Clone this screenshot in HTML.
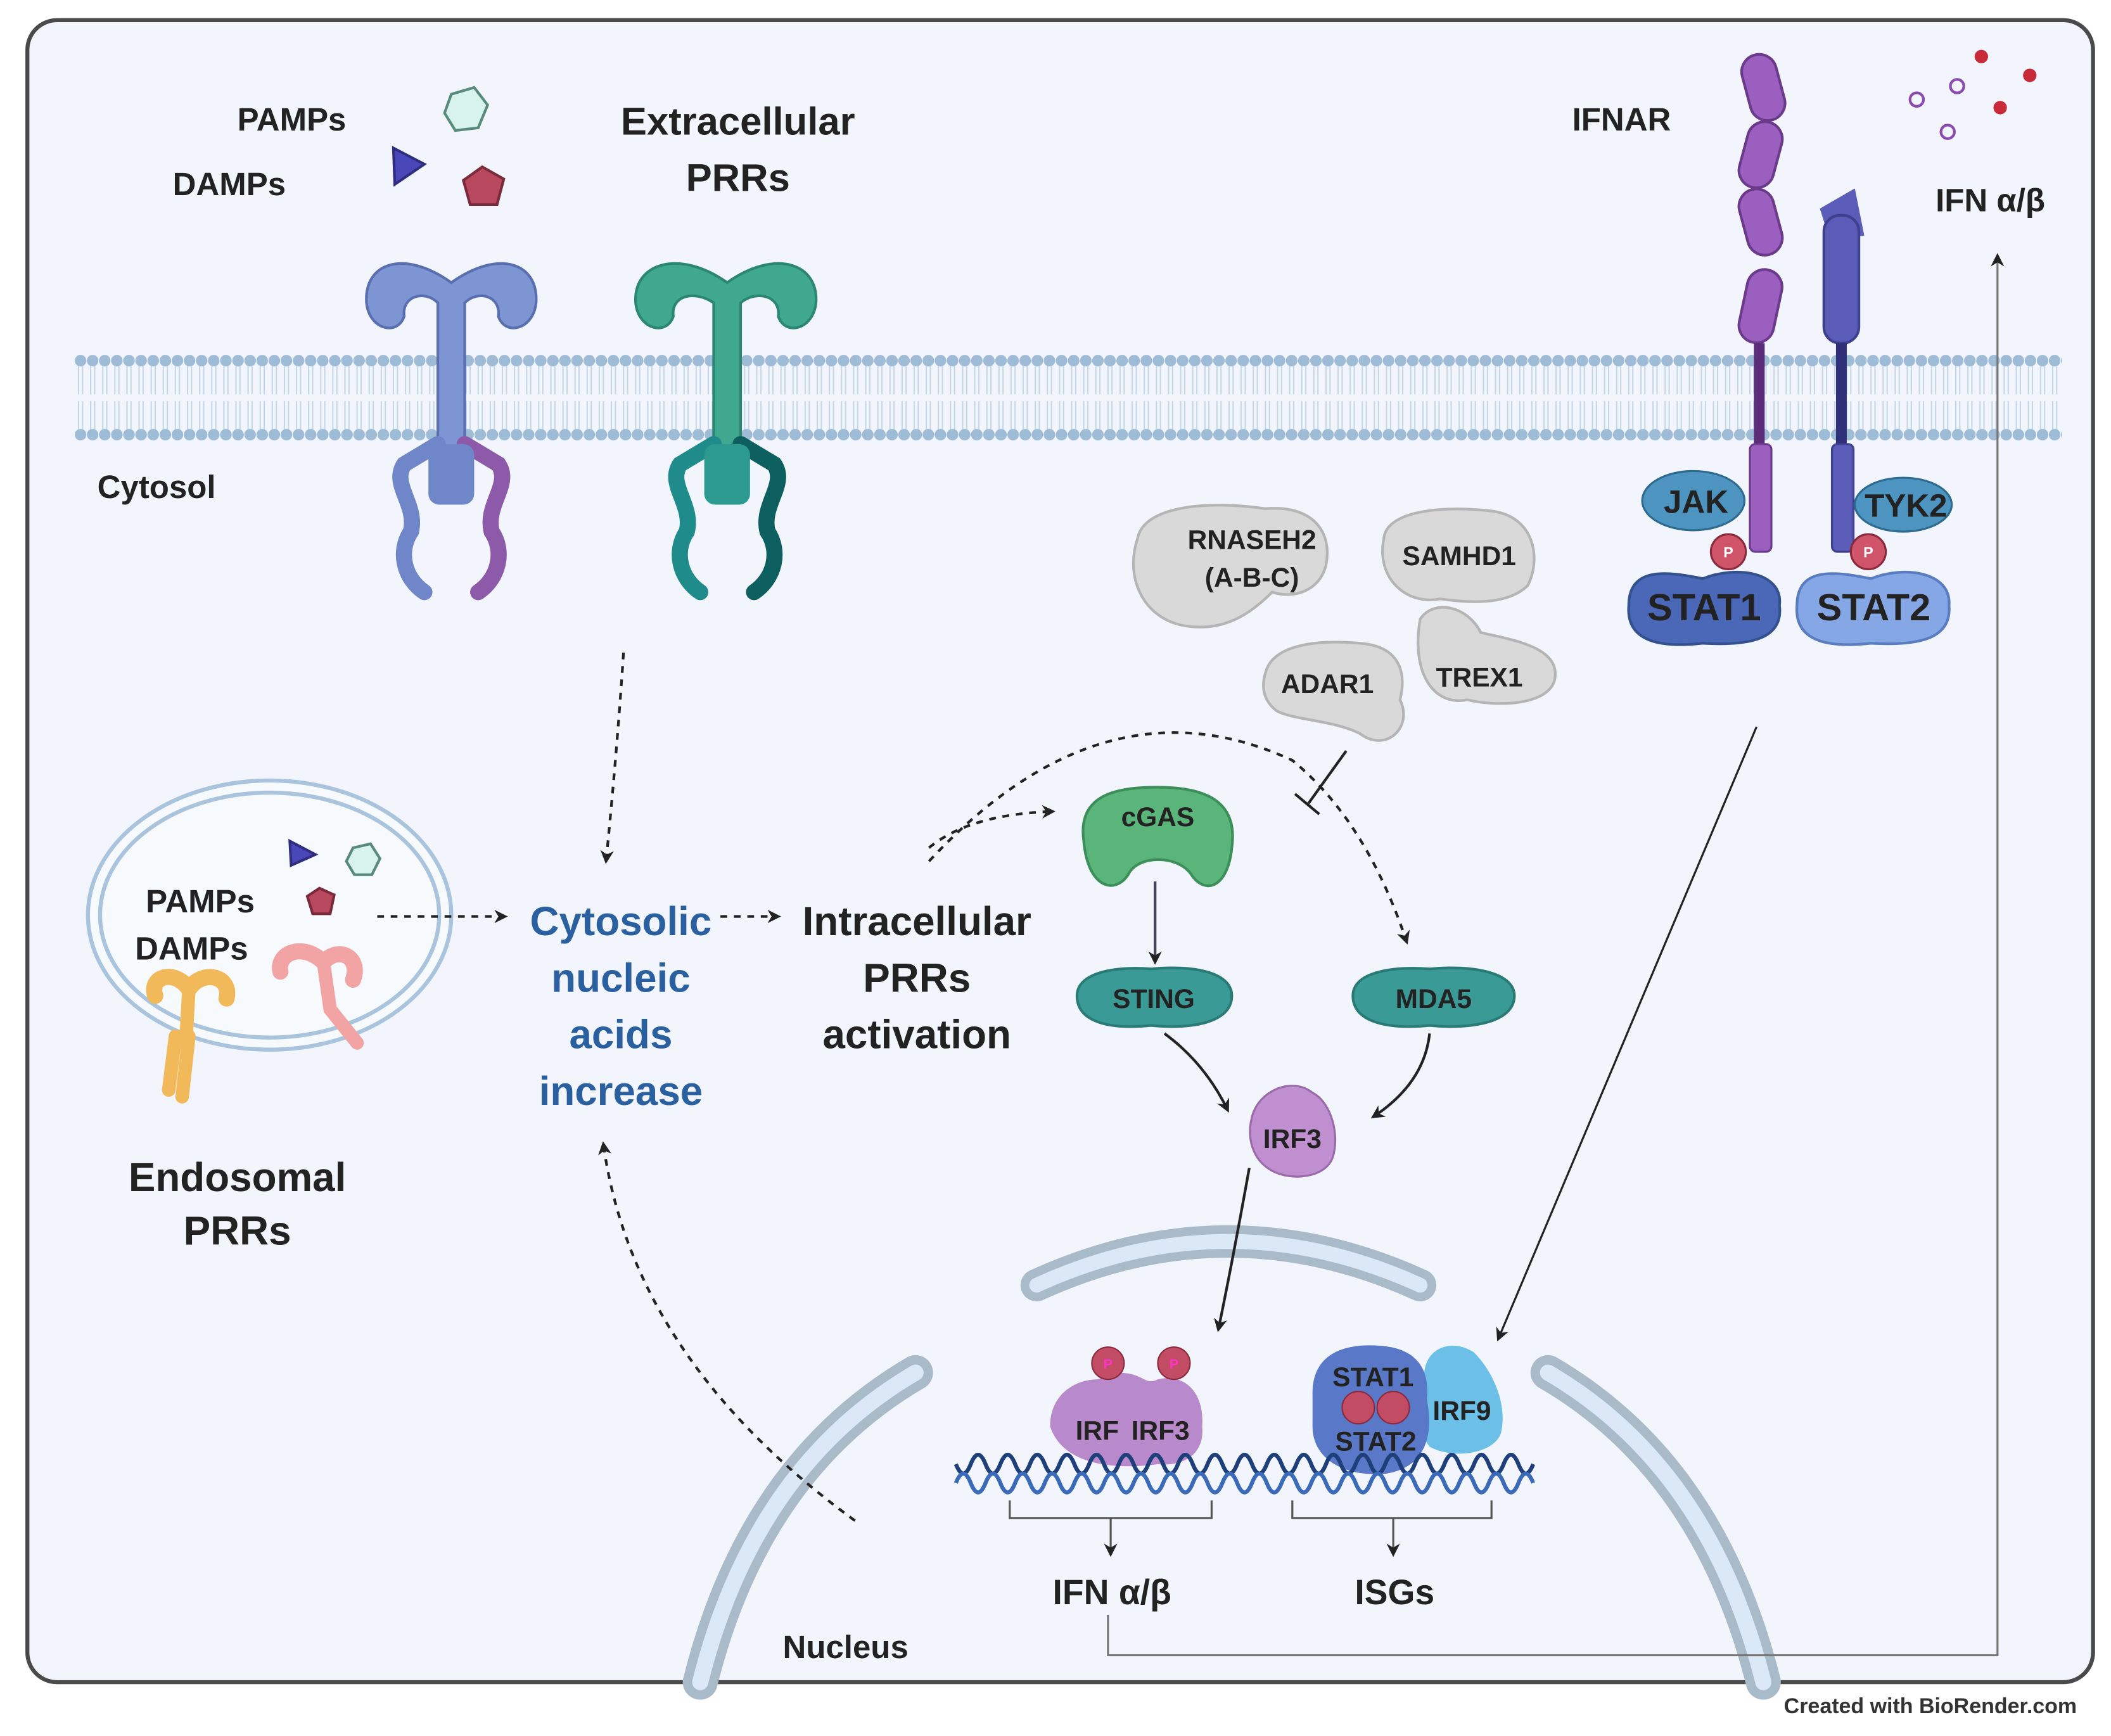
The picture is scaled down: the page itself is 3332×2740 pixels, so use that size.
<!DOCTYPE html>
<html><head><meta charset="utf-8"><style>
html,body{margin:0;padding:0;background:#fff}
svg{display:block}
text{font-family:"Liberation Sans",Arial,sans-serif;font-weight:bold}
</style></head><body>
<svg width="3332" height="2740" viewBox="0 0 1568 1290" xmlns="http://www.w3.org/2000/svg">
<defs>
<marker id="ah" markerWidth="10" markerHeight="10" refX="8" refY="5" orient="auto" markerUnits="userSpaceOnUse"><path d="M0,0 L10,5 L0,10 L3,5 z" fill="#222"/></marker>
<pattern id="dots" x="55" y="0" width="9" height="400" patternUnits="userSpaceOnUse">
<circle cx="4.5" cy="268" r="4.3" fill="#9fbcd6"/><circle cx="4.5" cy="323" r="4.3" fill="#9fbcd6"/>
<line x1="3" y1="272" x2="3" y2="293" stroke="#c5d6e6" stroke-width="1"/><line x1="6" y1="272" x2="6" y2="293" stroke="#c5d6e6" stroke-width="1"/>
<line x1="3" y1="298" x2="3" y2="319" stroke="#c5d6e6" stroke-width="1"/><line x1="6" y1="298" x2="6" y2="319" stroke="#c5d6e6" stroke-width="1"/>
</pattern>
</defs>
<rect x="0" y="0" width="1568" height="1290" fill="#fff"/>
<rect x="20" y="15" width="1535" height="1235" rx="22" fill="#f2f6fc" stroke="#4a4a4a" stroke-width="3"/>
<rect x="55" y="262" width="1477" height="68" fill="url(#dots)"/>

<!-- nucleus envelope -->
<path d="M520 1250 Q560 1090 680 1020" fill="none" stroke="#a9bac9" stroke-width="26" stroke-linecap="round"/>
<path d="M520 1250 Q560 1090 680 1020" fill="none" stroke="#dbe9f7" stroke-width="12" stroke-linecap="round"/>
<path d="M1150 1020 Q1270 1090 1310 1250" fill="none" stroke="#a9bac9" stroke-width="26" stroke-linecap="round"/>
<path d="M1150 1020 Q1270 1090 1310 1250" fill="none" stroke="#dbe9f7" stroke-width="12" stroke-linecap="round"/>
<path d="M770 955 Q912 890 1055 955" fill="none" stroke="#a9bac9" stroke-width="24" stroke-linecap="round"/>
<path d="M770 955 Q912 890 1055 955" fill="none" stroke="#dbe9f7" stroke-width="11" stroke-linecap="round"/>

<!-- endosome -->
<ellipse cx="200" cy="680" rx="135" ry="100" fill="#f7fafd" stroke="#a9c4dc" stroke-width="3"/>
<ellipse cx="200" cy="680" rx="126" ry="91" fill="none" stroke="#a9c4dc" stroke-width="3"/>

<!-- ligands top -->
<polygon points="335,70 352,65 362,78 355,95 338,97 330,84" fill="#d8f3ec" stroke="#5a8a7c" stroke-width="2"/>
<polygon points="292,110 315,122 293,137" fill="#4a48b8" stroke="#302c80" stroke-width="2"/>
<polygon points="358,124 374,133 369,152 349,152 344,134" fill="#b8485e" stroke="#7a2a3a" stroke-width="2"/>
<!-- ligands endosome -->
<polygon points="262,630 275,627 282,638 276,650 263,650 257,640" fill="#d8f3ec" stroke="#5a8a7c" stroke-width="2"/>
<polygon points="215,625 234,635 216,643" fill="#4a48b8" stroke="#302c80" stroke-width="2"/>
<polygon points="237,660 248,665 245,679 232,679 228,666" fill="#b8485e" stroke="#7a2a3a" stroke-width="2"/>

<!-- extracellular PRR 1 (blue) -->
<g>
<path d="M335 210 C300 185 270 195 272 225 C274 245 295 250 300 235 C298 220 315 215 325 225 L325 360 L345 360 L345 225 C355 215 372 220 370 235 C375 250 396 245 398 225 C400 195 370 185 335 210z" fill="#7d95d3" stroke="#5a6fb0" stroke-width="2"/>
<path d="M325 330 L300 345 C290 360 310 375 305 395 C295 410 300 430 315 440" fill="none" stroke="#6f87c8" stroke-width="12" stroke-linecap="round"/>
<path d="M345 330 L370 345 C380 360 360 375 365 395 C375 410 370 430 355 440" fill="none" stroke="#8c5aa8" stroke-width="12" stroke-linecap="round"/>
<rect x="318" y="330" width="34" height="45" rx="8" fill="#6f87c8"/>
</g>
<!-- extracellular PRR 2 (green) -->
<g>
<path d="M540 210 C505 185 470 195 472 225 C474 245 495 250 500 235 C498 220 515 215 530 225 L530 360 L550 360 L550 225 C562 215 580 220 578 235 C583 250 604 245 606 225 C608 195 575 185 540 210z" fill="#3fa88f" stroke="#2b8672" stroke-width="2"/>
<path d="M530 330 L505 345 C495 360 515 375 510 395 C500 410 505 430 520 440" fill="none" stroke="#1f8b8b" stroke-width="12" stroke-linecap="round"/>
<path d="M550 330 L575 345 C585 360 565 375 570 395 C580 410 575 430 560 440" fill="none" stroke="#0e5f5f" stroke-width="12" stroke-linecap="round"/>
<rect x="523" y="330" width="34" height="45" rx="8" fill="#2d9a90"/>
</g>

<!-- endosomal receptors -->
<g fill="none" stroke-linecap="round">
<path d="M115 740 C110 725 130 720 140 735 C150 720 172 725 168 742" stroke="#f2b95a" stroke-width="12"/>
<path d="M140 735 L138 770 M130 770 L125 810 M140 770 L135 815" stroke="#f2b95a" stroke-width="10"/>
<path d="M208 722 C205 708 225 700 240 715 C252 702 268 712 262 728" stroke="#f2a3a3" stroke-width="12"/>
<path d="M240 715 L245 750 L265 775" stroke="#f2a3a3" stroke-width="10"/>
</g>

<!-- IFNAR -->
<g>
<rect x="1297" y="40" width="26" height="50" rx="13" fill="#9b5fc0" stroke="#6b3a8a" stroke-width="2" transform="rotate(-15 1310 65)"/>
<rect x="1295" y="90" width="26" height="50" rx="13" fill="#9b5fc0" stroke="#6b3a8a" stroke-width="2" transform="rotate(15 1308 115)"/>
<rect x="1295" y="140" width="26" height="50" rx="13" fill="#9b5fc0" stroke="#6b3a8a" stroke-width="2" transform="rotate(-15 1308 165)"/>
<rect x="1295" y="200" width="26" height="55" rx="13" fill="#9b5fc0" stroke="#6b3a8a" stroke-width="2" transform="rotate(12 1308 227)"/>
<rect x="1303" y="255" width="8" height="100" fill="#5b2d78"/>
<rect x="1300" y="330" width="16" height="80" rx="4" fill="#9b5fc0" stroke="#6b3a8a" stroke-width="1.5"/>
<path d="M1352 155 L1378 140 L1385 175 L1360 180z" fill="#5a5cb8"/>
<rect x="1355" y="160" width="26" height="95" rx="12" fill="#5a5cb8" stroke="#3d3f8f" stroke-width="2"/>
<rect x="1364" y="255" width="8" height="100" fill="#2f2f7a"/>
<rect x="1361" y="330" width="16" height="80" rx="4" fill="#5a5cb8" stroke="#3d3f8f" stroke-width="1.5"/>
<ellipse cx="1258" cy="372" rx="38" ry="22" fill="#4d95c0" stroke="#2c6a90" stroke-width="1.5"/>
<ellipse cx="1414" cy="375" rx="36" ry="20" fill="#4d95c0" stroke="#2c6a90" stroke-width="1.5"/>
<path d="M1210 450 C1210 420 1240 425 1265 430 C1290 420 1325 425 1322 450 C1325 475 1300 480 1265 478 C1230 482 1208 475 1210 450z" fill="#4a67b8" stroke="#33508f" stroke-width="2"/>
<path d="M1335 450 C1335 420 1365 425 1390 430 C1415 420 1450 425 1448 450 C1450 475 1425 480 1390 478 C1355 482 1333 475 1335 450z" fill="#86a7e6" stroke="#5a7cc0" stroke-width="2"/>
<circle cx="1284" cy="410" r="13" fill="#d0546a" stroke="#8a2a3c" stroke-width="1.5"/>
<circle cx="1388" cy="410" r="13" fill="#d0546a" stroke="#8a2a3c" stroke-width="1.5"/>
<text x="1284" y="414" font-size="11" fill="#fff" text-anchor="middle">P</text>
<text x="1388" y="414" font-size="11" fill="#fff" text-anchor="middle">P</text>
</g>
<!-- IFN dots -->
<g stroke-width="2">
<circle cx="1472" cy="42" r="5" fill="#c82a3a"/><circle cx="1508" cy="56" r="5" fill="#c82a3a"/><circle cx="1486" cy="80" r="5" fill="#c82a3a"/>
<circle cx="1424" cy="74" r="5" fill="none" stroke="#8a4ab0"/><circle cx="1454" cy="64" r="5" fill="none" stroke="#8a4ab0"/><circle cx="1447" cy="98" r="5" fill="none" stroke="#8a4ab0"/>
</g>

<!-- grey proteins -->
<g fill="#d9d9d9" stroke="#b5b5b5" stroke-width="2">
<path d="M845 400 C850 375 900 372 940 378 C975 375 990 395 985 420 C980 440 960 445 945 440 C930 455 910 470 880 465 C850 460 835 430 845 400z"/>
<path d="M1028 400 C1030 380 1070 375 1110 380 C1140 385 1145 415 1135 435 C1120 450 1090 448 1070 445 C1045 450 1022 430 1028 400z"/>
<path d="M1055 460 C1065 445 1090 450 1100 470 C1120 475 1160 480 1155 505 C1150 525 1110 525 1090 520 C1065 525 1048 500 1055 460z"/>
<path d="M940 500 C945 480 975 475 1010 478 C1040 480 1045 500 1040 520 C1050 540 1030 560 1010 545 C990 535 960 535 948 528 C938 520 937 510 940 500z"/>
</g>
<!-- cGAS, STING, MDA5, IRF3 -->
<path d="M805 625 C800 590 830 585 860 585 C895 585 920 595 915 630 C912 660 895 665 885 650 C875 635 845 635 838 650 C828 665 808 660 805 625z" fill="#5ab57a" stroke="#3c8e5a" stroke-width="2"/>
<path d="M800 740 C800 722 830 718 855 720 C885 717 915 722 915 740 C915 760 885 765 855 762 C825 765 800 760 800 740z" fill="#3a9a96" stroke="#2a7a76" stroke-width="2"/>
<path d="M1005 740 C1005 722 1035 718 1062 720 C1092 717 1125 722 1125 740 C1125 760 1092 765 1062 762 C1032 765 1005 760 1005 740z" fill="#3a9a96" stroke="#2a7a76" stroke-width="2"/>
<path d="M930 830 C935 810 960 800 975 812 C990 820 995 845 990 860 C985 875 960 878 945 870 C930 862 926 845 930 830z" fill="#c08fd0" stroke="#9a6aaa" stroke-width="1.5"/>

<!-- nucleus complexes -->
<path d="M780 1060 C780 1035 800 1025 815 1025 L830 1020 C850 1020 850 1030 860 1025 C880 1020 895 1035 893 1060 C895 1080 880 1090 860 1088 C830 1092 790 1090 780 1060z" fill="#b98acb"/>
<circle cx="823" cy="1013" r="12" fill="#c24c64" stroke="#8a2a3c"/>
<circle cx="872" cy="1013" r="12" fill="#c24c64" stroke="#8a2a3c"/>
<text x="823" y="1017" font-size="10" fill="#f3c" text-anchor="middle">P</text>
<text x="872" y="1017" font-size="10" fill="#f3c" text-anchor="middle">P</text>
<path d="M1058 1020 C1060 1000 1080 995 1095 1005 C1110 1020 1120 1045 1115 1065 C1110 1080 1080 1085 1062 1075 C1050 1060 1055 1040 1058 1020z" fill="#6cc0e8"/>
<path d="M975 1035 C975 1005 1000 998 1025 1000 C1055 1002 1062 1020 1060 1040 C1065 1065 1060 1090 1030 1095 C1000 1098 975 1085 975 1060z" fill="#5a78c8"/>
<circle cx="1009" cy="1046" r="12" fill="#c24c64" stroke="#8a2a3c"/>
<circle cx="1035" cy="1046" r="12" fill="#c24c64" stroke="#8a2a3c"/>

<!-- DNA -->
<path d="M710 1088 q5.5 14 11 0 t11 0 t11 0 t11 0 t11 0 t11 0 t11 0 t11 0 t11 0 t11 0 t11 0 t11 0 t11 0 t11 0 t11 0 t11 0 t11 0 t11 0 t11 0 t11 0 t11 0 t11 0 t11 0 t11 0 t11 0 t11 0 t11 0 t11 0 t11 0 t11 0 t11 0 t11 0 t11 0 t11 0 t11 0 t11 0 t11 0 t11 0 t11 0" fill="none" stroke="#1f3f7a" stroke-width="3"/>
<path d="M710 1102 q5.5 -14 11 0 t11 0 t11 0 t11 0 t11 0 t11 0 t11 0 t11 0 t11 0 t11 0 t11 0 t11 0 t11 0 t11 0 t11 0 t11 0 t11 0 t11 0 t11 0 t11 0 t11 0 t11 0 t11 0 t11 0 t11 0 t11 0 t11 0 t11 0 t11 0 t11 0 t11 0 t11 0 t11 0 t11 0 t11 0 t11 0 t11 0 t11 0 t11 0" fill="none" stroke="#3a6ab8" stroke-width="3"/>

<!-- brackets -->
<g fill="none" stroke="#555" stroke-width="1.5">
<path d="M750 1115 V1128 H900 V1115"/><path d="M960 1115 V1128 H1108 V1115"/>
<path d="M825 1128 V1155" marker-end="url(#ah)"/><path d="M1035 1128 V1155" marker-end="url(#ah)"/>
<path d="M823 1200 V1230 H1484 V190" stroke="#777" marker-end="url(#ah)"/>
</g>

<!-- arrows -->
<g fill="none" stroke="#222" stroke-width="2">
<path d="M463 485 Q458 560 450 640" stroke-dasharray="5,5" marker-end="url(#ah)"/>
<path d="M280 681 H375" stroke-dasharray="5,5" marker-end="url(#ah)"/>
<path d="M535 681 H578" stroke-dasharray="5,5" marker-end="url(#ah)"/>
<path d="M690 630 Q720 605 782 603" stroke-dasharray="5,5" marker-end="url(#ah)"/>
<path d="M690 640 Q820 500 960 565 Q1015 610 1045 700" stroke-dasharray="5,5" marker-end="url(#ah)"/>
<path d="M635 1130 Q470 1010 448 850" stroke-dasharray="5,5" marker-end="url(#ah)"/>
<path d="M858 655 V715" stroke="#445" marker-end="url(#ah)"/>
<path d="M1000 558 L972 597 M962 590 L980 605"/>
<path d="M865 768 Q895 790 912 825" marker-end="url(#ah)"/>
<path d="M1062 768 Q1058 805 1020 830" marker-end="url(#ah)"/>
<path d="M928 868 Q915 940 905 988" marker-end="url(#ah)"/>
<path d="M1305 540 L1113 995" stroke-width="1.5" marker-end="url(#ah)"/>
</g>

<!-- texts -->
<g fill="#222">
<text x="176" y="97" font-size="24">PAMPs</text>
<text x="128" y="145" font-size="24">DAMPs</text>
<text x="548" y="100" font-size="29" text-anchor="middle">Extracellular</text>
<text x="548" y="142" font-size="29" text-anchor="middle">PRRs</text>
<text x="72" y="370" font-size="24">Cytosol</text>
<text x="1168" y="97" font-size="24">IFNAR</text>
<text x="1438" y="157" font-size="24">IFN α/β</text>
<text x="108" y="678" font-size="24">PAMPs</text>
<text x="100" y="713" font-size="24">DAMPs</text>
<text x="176" y="885" font-size="30" text-anchor="middle">Endosomal</text>
<text x="176" y="925" font-size="30" text-anchor="middle">PRRs</text>
<g fill="#2a5fa0" font-size="30" text-anchor="middle">
<text x="461" y="695">Cytosolic</text><text x="461" y="737">nucleic</text><text x="461" y="779">acids</text><text x="461" y="821">increase</text>
</g>
<g font-size="30" text-anchor="middle">
<text x="681" y="695">Intracellular</text><text x="681" y="737">PRRs</text><text x="681" y="779">activation</text>
</g>
<text x="930" y="408" font-size="20" text-anchor="middle">RNASEH2</text>
<text x="930" y="436" font-size="20" text-anchor="middle">(A-B-C)</text>
<text x="1084" y="420" font-size="20" text-anchor="middle">SAMHD1</text>
<text x="1099" y="510" font-size="20" text-anchor="middle">TREX1</text>
<text x="986" y="515" font-size="20" text-anchor="middle">ADAR1</text>
<text x="860" y="614" font-size="20" text-anchor="middle">cGAS</text>
<text x="857" y="749" font-size="20" text-anchor="middle">STING</text>
<text x="1065" y="749" font-size="20" text-anchor="middle">MDA5</text>
<text x="960" y="853" font-size="20" text-anchor="middle">IRF3</text>
<text x="1260" y="381" font-size="24" text-anchor="middle">JAK</text>
<text x="1416" y="384" font-size="24" text-anchor="middle">TYK2</text>
<text x="1266" y="461" font-size="28" text-anchor="middle">STAT1</text>
<text x="1392" y="461" font-size="28" text-anchor="middle">STAT2</text>
<text x="815" y="1070" font-size="20" text-anchor="middle">IRF</text>
<text x="862" y="1070" font-size="20" text-anchor="middle">IRF3</text>
<text x="1020" y="1030" font-size="20" text-anchor="middle">STAT1</text>
<text x="1022" y="1078" font-size="20" text-anchor="middle">STAT2</text>
<text x="1086" y="1055" font-size="20" text-anchor="middle">IRF9</text>
<text x="826" y="1192" font-size="26" text-anchor="middle">IFN α/β</text>
<text x="1036" y="1192" font-size="26" text-anchor="middle">ISGs</text>
<text x="628" y="1232" font-size="24" text-anchor="middle">Nucleus</text>
<text x="1543" y="1273" font-size="16" text-anchor="end" font-weight="normal" fill="#333">Created with BioRender.com</text>
</g>
</svg>
</body></html>
